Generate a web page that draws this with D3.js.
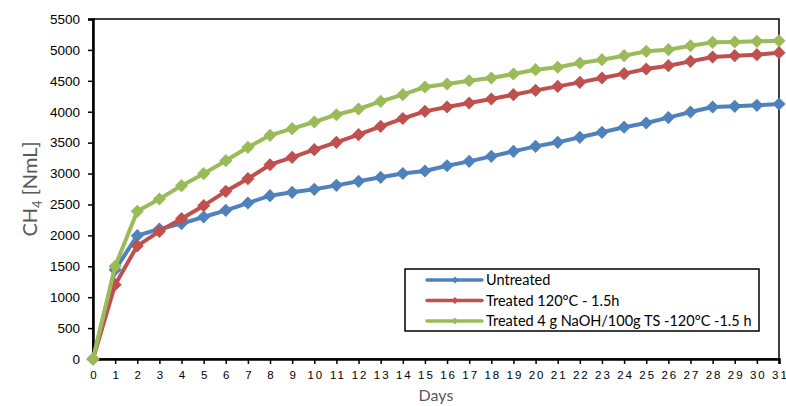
<!DOCTYPE html>
<html>
<head>
<meta charset="utf-8">
<script src="https://cdn.jsdelivr.net/npm/d3@7"></script>
<style>
  body { margin: 0; background: #fff; }
  svg { display: block; font-family: Lato, "Open Sans", sans-serif; }
</style>
</head>
<body>
<div id="chart"></div>
<script>
// data
var days = d3.range(0, 32);
var untreated = [0, 1445, 1995, 2103, 2190, 2297, 2405, 2523, 2642, 2696, 2745,
  2809, 2874, 2939, 3000, 3041, 3127, 3197, 3278, 3359, 3440, 3505,
  3586, 3667, 3750, 3817, 3905, 3995, 4076, 4087, 4103, 4125];
var treated120 = [0, 1202, 1830, 2065, 2270, 2480, 2712, 2917, 3143, 3262, 3386,
  3505, 3629, 3764, 3890, 4006, 4076, 4141, 4206, 4276, 4346, 4410,
  4475, 4546, 4616, 4691, 4745, 4815, 4885, 4907, 4923, 4955];
var treatedNaOH = [0, 1499, 2389, 2588, 2804, 2998, 3208, 3424, 3618, 3726, 3834,
  3952, 4044, 4168, 4276, 4400, 4448, 4502, 4546, 4610, 4680, 4720,
  4788, 4842, 4907, 4977, 5004, 5068, 5122, 5128, 5139, 5149];
var seriesNames = ["Untreated", "Treated 120°C - 1.5h", "Treated 4 g NaOH/100g TS -120°C -1.5 h"];
var seriesColors = ["#4F81BD", "#C0504D", "#9BBB59"];
var yTicks = d3.range(0, 5501, 500);

var svgWidth = 786;
var svgHeight = 406;

var margin = { top: 19, right: 7, bottom: 47, left: 93 };
var width = svgWidth - margin.left - margin.right;
var height = svgHeight - margin.top - margin.bottom;

var svg = d3.select("#chart")
  .append("svg")
  .attr("width", svgWidth)
  .attr("height", svgHeight);

var chartGroup = svg.append("g")
  .attr("transform", `translate(${margin.left}, ${margin.top})`);

var xScale = d3.scaleLinear().domain([0, 31]).range([0, width]);
var yScale = d3.scaleLinear().domain([0, 5500]).range([height, 0]);

// plot area border
chartGroup.append("rect")
  .attr("x", 0)
  .attr("y", 0)
  .attr("width", width)
  .attr("height", height)
  .attr("fill", "none")
  .attr("stroke", "#000")
  .attr("stroke-width", 1.5);

// axes
var leftAxis = d3.axisLeft(yScale).tickValues(yTicks).tickSize(5).tickPadding(8)
  .tickFormat(d3.format("d"));
var bottomAxis = d3.axisBottom(xScale).tickValues(days).tickSize(5).tickPadding(7)
  .tickFormat(d3.format("d"));

var yAxis = chartGroup.append("g").call(leftAxis);
var xAxis = chartGroup.append("g")
  .attr("transform", `translate(0, ${height})`)
  .call(bottomAxis);

[yAxis, xAxis].forEach(function(ax) {
  ax.select(".domain").attr("stroke", "#000").attr("stroke-width", 2.5);
  ax.selectAll(".tick line").attr("stroke", "#000").attr("stroke-width", 1.5);
});
yAxis.selectAll(".tick text")
  .attr("font-size", 13.5)
  .attr("fill", "#000");

// excel spreads the digits of the day labels apart
xAxis.selectAll(".tick text")
  .attr("font-size", 11.5)
  .attr("fill", "#000")
  .each(function(d) {
    var t = d3.select(this).text(null);
    String(d).split("").forEach(function(ch, i) {
      t.append("tspan").attr("dx", i ? 2 : 0).text(ch);
    });
  });

// axis titles
var yTitle = chartGroup.append("text")
  .attr("transform", `translate(-56, ${height / 2}) rotate(-90)`)
  .attr("text-anchor", "middle")
  .attr("font-size", 20)
  .attr("fill", "#595959");
yTitle.append("tspan").text("CH");
yTitle.append("tspan").attr("font-size", 13).attr("dy", 5).text("4");
yTitle.append("tspan").attr("dy", -5).text(" [NmL]");

chartGroup.append("text")
  .attr("x", width / 2)
  .attr("y", height + 42)
  .attr("text-anchor", "middle")
  .attr("font-size", 16)
  .attr("fill", "#595959")
  .text("Days");

// lines + diamond markers
var allSeries = [untreated, treated120, treatedNaOH];
var line = d3.line()
  .x(function(d, i) { return xScale(days[i]); })
  .y(function(d) { return yScale(d); });
var diamond = d3.symbol().type(d3.symbolDiamond2).size(110);

allSeries.forEach(function(values, s) {
  var g = chartGroup.append("g");
  g.append("path")
    .datum(values)
    .attr("d", line)
    .attr("fill", "none")
    .attr("stroke", seriesColors[s])
    .attr("stroke-width", 4)
    .attr("stroke-linejoin", "round");
  g.selectAll("path.marker")
    .data(values)
    .enter()
    .append("path")
    .attr("class", "marker")
    .attr("d", diamond)
    .attr("transform", function(d, i) { return `translate(${xScale(days[i])}, ${yScale(d)})`; })
    .attr("fill", seriesColors[s]);
});

// legend
var legend = svg.append("g").attr("transform", "translate(405, 269)");
legend.append("rect")
  .attr("width", 354)
  .attr("height", 62)
  .attr("fill", "#fff")
  .attr("stroke", "#000")
  .attr("stroke-width", 1.5);
var smallDiamond = d3.symbol().type(d3.symbolDiamond2).size(30);
seriesNames.forEach(function(name, s) {
  var row = legend.append("g").attr("transform", `translate(0, ${11 + s * 20.5})`);
  row.append("line")
    .attr("x1", 22).attr("x2", 77)
    .attr("stroke", seriesColors[s])
    .attr("stroke-width", 3.5)
    .attr("stroke-linecap", "round");
  row.append("path")
    .attr("d", smallDiamond)
    .attr("transform", "translate(50, 0)")
    .attr("fill", seriesColors[s]);
  row.append("text")
    .attr("x", 81)
    .attr("dy", "0.35em")
    .attr("font-size", 14.5)
    .attr("fill", "#000")
    .text(name);
});
</script>
</body>
</html>
